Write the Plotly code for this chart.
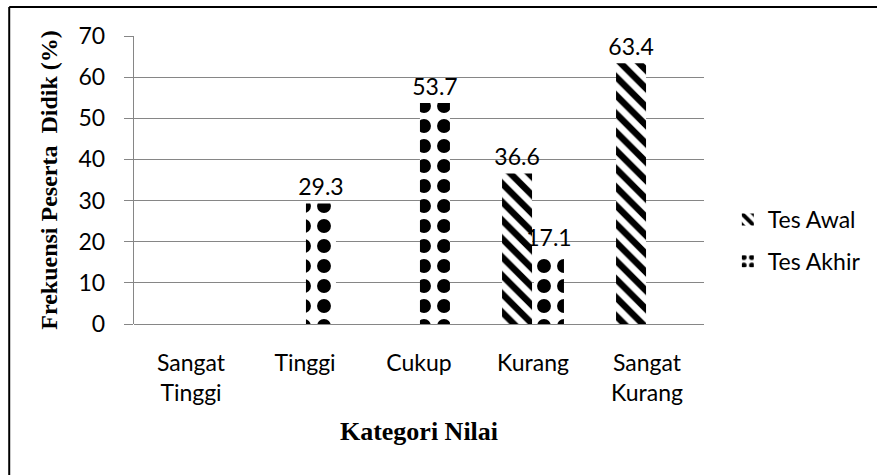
import plotly.graph_objects as go

# Category labels (x axis) and series values in percent
categories = ["Sangat<br>Tinggi", "Tinggi", "Cukup", "Kurang", "Sangat<br>Kurang"]
tes_awal = [None, None, None, 36.6, 63.4]
tes_akhir = [None, 29.3, 53.7, 17.1, None]
y_ticks = [0, 10, 20, 30, 40, 50, 60, 70]

SANS = "Lato, Carlito, Calibri, sans-serif"
SERIF = "Liberation Serif, Times New Roman, serif"
GRID = "#868686"

fig = go.Figure()

fig.add_trace(go.Bar(
    name="Tes Awal",
    x=categories,
    y=tes_awal,
    legendgroup="awal",
    marker=dict(
        color="white",
        line=dict(width=0),
        pattern=dict(shape="\\", fgcolor="black", bgcolor="white",
                     fgopacity=1, size=13, solidity=0.5),
    ),
    texttemplate="%{y:.1f}",
    textposition="outside",
    textfont=dict(family=SANS, size=23, color="black"),
    constraintext="none",
    cliponaxis=False,
))

fig.add_trace(go.Bar(
    name="Tes Akhir",
    x=categories,
    y=tes_akhir,
    legendgroup="akhir",
    marker=dict(
        color="white",
        line=dict(width=0),
        pattern=dict(shape=".", fgcolor="black", bgcolor="white",
                     fgopacity=1, size=20, solidity=0.38),
    ),
    texttemplate="%{y:.1f}",
    textposition="outside",
    textfont=dict(family=SANS, size=23, color="black"),
    constraintext="none",
    cliponaxis=False,
))

# Outer frame: left and top edges of the chart box
frame_x = (9 - 134) / 571
frame_y = (324 - 7) / 288
fig.add_shape(type="line", xref="paper", yref="paper",
              x0=frame_x, x1=frame_x, y0=-1.0, y1=frame_y,
              line=dict(color="black", width=2), layer="above")
fig.add_shape(type="line", xref="paper", yref="paper",
              x0=frame_x, x1=1.6, y0=frame_y, y1=frame_y,
              line=dict(color="black", width=2), layer="above")

fig.update_layout(
    width=877, height=475,
    margin=dict(l=134, r=172, t=36, b=151),
    paper_bgcolor="white",
    plot_bgcolor="white",
    barmode="group",
    bargap=0.44,
    bargroupgap=0.06,
    font=dict(family=SANS, size=23, color="black"),
    showlegend=True,
    legend=dict(
        x=1.04, xanchor="left",
        y=0.29, yanchor="middle",
        traceorder="grouped",
        tracegroupgap=9,
        font=dict(family=SANS, size=23, color="black"),
        bgcolor="rgba(0,0,0,0)",
        itemwidth=30,
    ),
    xaxis=dict(
        showgrid=False,
        showline=False,
        ticks="",
        ticklabelstandoff=23,
        tickfont=dict(family=SANS, size=23, color="black"),
        title=dict(text="<b>Kategori Nilai</b>",
                   font=dict(family=SERIF, size=26, color="black"),
                   standoff=16),
        automargin=False,
    ),
    yaxis=dict(
        range=[0, 70],
        tickvals=y_ticks,
        showgrid=True,
        gridcolor=GRID,
        gridwidth=1.4,
        showline=True,
        linecolor=GRID,
        linewidth=1.4,
        ticks="outside",
        ticklen=9,
        tickcolor=GRID,
        tickwidth=1.4,
        ticklabelstandoff=14,
        zeroline=True,
        zerolinecolor=GRID,
        zerolinewidth=1.4,
        tickfont=dict(family=SANS, size=23, color="black"),
        title=dict(text="<b>Frekuensi Peserta  Didik (%)</b>",
                   font=dict(family=SERIF, size=24, color="black"),
                   standoff=14),
        automargin=False,
    ),
)

fig.write_html("out.html")
